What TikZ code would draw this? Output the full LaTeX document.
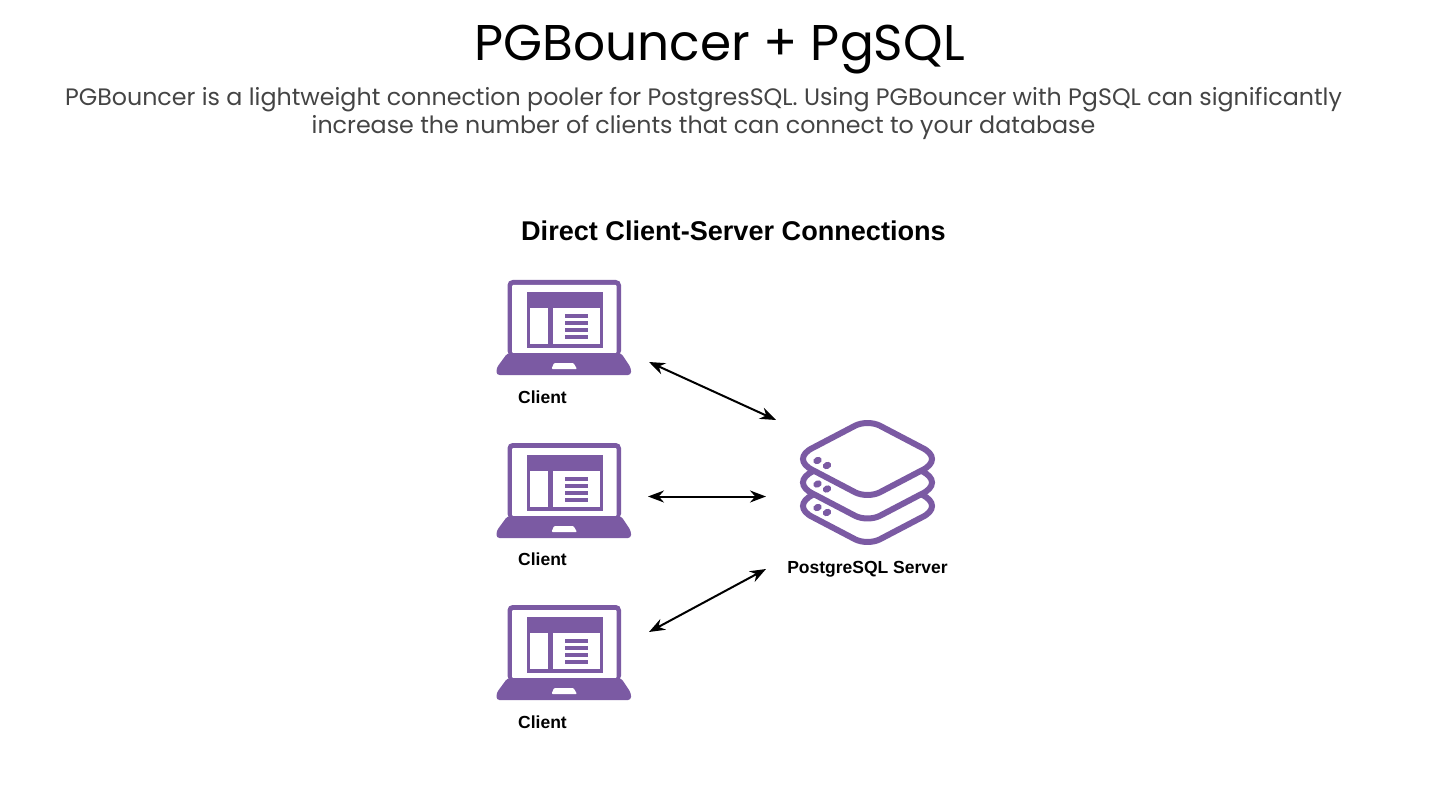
\documentclass[tikz,border=0pt]{standalone}
\usepackage{fontspec}
\setmainfont{Poppins}
\newfontfamily\arialfont{Liberation Sans}
\usetikzlibrary{arrows.meta}
\definecolor{iconpurple}{HTML}{7B5AA3}
\definecolor{subgrey}{HTML}{444444}
\tikzset{
  laptop/.pic={
    \fill [iconpurple, rounded corners=5pt] (0,0) -- (113.5,0) -- (113.5,76) -- (0,76) -- cycle;
    \fill [white, rounded corners=1pt] (4.5,5) -- (109,5) -- (109,73) -- (4.5,73) -- cycle;
    \fill [iconpurple, rounded corners=3pt] (0,73) -- (113.5,73) -- (123.5,88) -- (123.5,95) -- (-11,95) -- (-11,88) -- cycle;
    \fill [iconpurple] (19.5,12) rectangle (95.5,68);
    \fill [white] (22.5,28) rectangle (40.5,64);
    \fill [white] (45.5,28) rectangle (92.5,64);
    \foreach \liney in {33.5,40.5,47.5,54.5}
      \fill [iconpurple] (57.5,\liney) rectangle (80.5,\liney+4.2);
    \fill [white, rounded corners=1pt] (46.5,83) -- (66,83) -- (69.5,89) -- (44,89) -- cycle;
  },
  disk/.pic={
    \draw [iconpurple, line width=6pt, fill=white]
      (-12,-33.5) .. controls (-5,-36.8) and (5,-36.8) .. (12,-33.5) -- (54,-11.5)
      .. controls (68,-5) and (68,5) .. (54,11.5) -- (12,33.5)
      .. controls (5,36.8) and (-5,36.8) .. (-12,33.5) -- (-54,11.5)
      .. controls (-68,5) and (-68,-5) .. (-54,-11.5) -- cycle;
    \fill [iconpurple, rotate around={25:(-50,1.5)}] (-50,1.5) ellipse (4.4pt and 3.5pt);
    \fill [iconpurple, rotate around={25:(-40.5,6.5)}] (-40.5,6.5) ellipse (4.4pt and 3.5pt);
  }
}
\begin{document}
\begin{tikzpicture}[x=1pt, y=-1pt]
    \tikzstyle{clientlabel} = [font=\arialfont\bfseries\fontsize{17.5}{20}\selectfont, text=black]
    \tikzstyle{link} = [{Stealth[length=16pt,width=12pt]}-{Stealth[length=16pt,width=12pt]}, line width=2pt, black]

    \useasboundingbox (0,0) rectangle (1440,810);

    \node [font=\fontsize{50.2}{60}\selectfont, text=black] (title) at (719.5,50) {PGBouncer + PgSQL};
    \node [font=\fontsize{23.76}{28}\selectfont, text=subgrey, align=center] (intro) at (703.5,113)
      {PGBouncer is a lightweight connection pooler for PostgresSQL. Using PGBouncer with PgSQL can significantly\\increase the number of clients that can connect to your database};
    \node [font=\arialfont\bfseries\fontsize{27.1}{32}\selectfont, text=black] (heading) at (733.5,231) {Direct Client-Server Connections};

    \pic (lap1) at (507.5,280) {laptop};
    \pic (lap2) at (507.5,443) {laptop};
    \pic (lap3) at (507.5,605) {laptop};

    \node [clientlabel] (client1) at (542.5,397) {Client};
    \node [clientlabel] (client2) at (542.5,559.5) {Client};
    \node [clientlabel] (client3) at (542.5,722) {Client};

    \pic (disk3) at (867.5,506) {disk};
    \pic (disk2) at (867.5,482.5) {disk};
    \pic (disk1) at (867.5,459) {disk};

    \node [clientlabel] (server) at (867.5,569) {PostgreSQL Server};

    \coordinate (from1) at (649,362);
    \coordinate (from2) at (648,496.5);
    \coordinate (from3) at (649,632);
    \coordinate (to1) at (776,420);
    \coordinate (to2) at (766,496.5);
    \coordinate (to3) at (766,569);

    \draw [link] (from1) -- (to1);
    \draw [link] (from2) -- (to2);
    \draw [link] (from3) -- (to3);
\end{tikzpicture}
\end{document}
